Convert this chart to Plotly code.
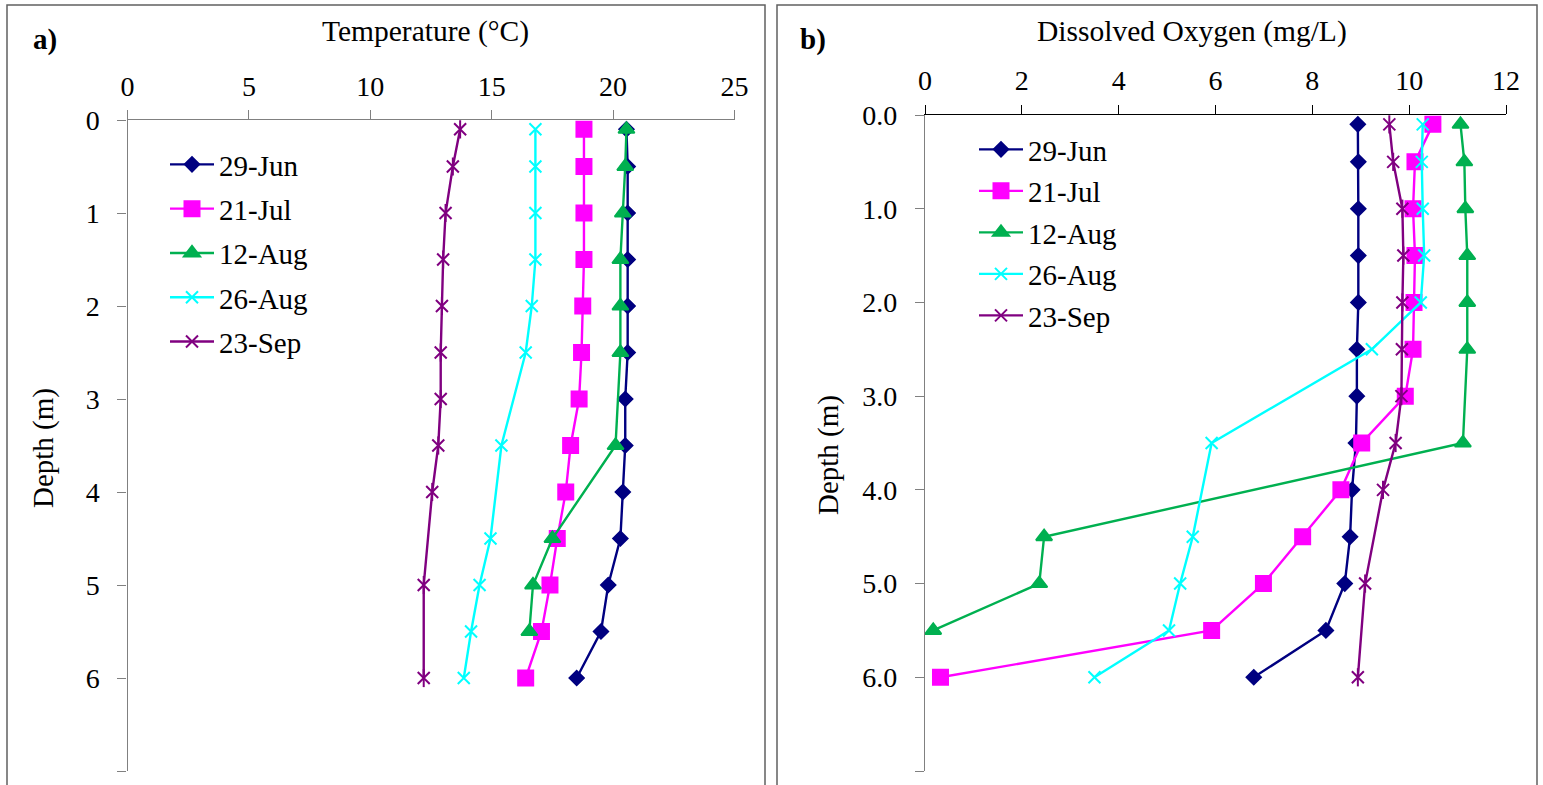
import plotly.graph_objects as go

# ---------------- data ----------------
depth = [0.1, 0.5, 1.0, 1.5, 2.0, 2.5, 3.0, 3.5, 4.0, 4.5, 5.0, 5.5, 6.0]
series_names = ["29-Jun", "21-Jul", "12-Aug", "26-Aug", "23-Sep"]

# Temperature (°C)
temp_29jun = [20.55, 20.6, 20.6, 20.6, 20.6, 20.6, 20.5, 20.5, 20.4, 20.3, 19.8, 19.5, 18.5]
temp_21jul = [18.8, 18.8, 18.8, 18.8, 18.75, 18.7, 18.6, 18.25, 18.05, 17.7, 17.4, 17.05, 16.4]
temp_12aug = [20.55, 20.5, 20.4, 20.3, 20.3, 20.3, None, 20.1, None, 17.5, 16.7, 16.55, None]
temp_26aug = [16.8, 16.8, 16.8, 16.8, 16.65, 16.4, None, 15.4, None, 14.95, 14.5, 14.15, 13.85]
temp_23sep = [13.7, 13.4, 13.1, 13.0, 12.95, 12.9, 12.9, 12.8, 12.55, None, 12.2, None, 12.2]

# Dissolved oxygen (mg/L)
do_29jun = [8.94, 8.95, 8.95, 8.95, 8.95, 8.92, 8.92, 8.9, 8.82, 8.78, 8.67, 8.28, 6.79]
do_21jul = [10.49, 10.12, 10.08, 10.12, 10.1, 10.08, 9.92, 9.02, 8.59, 7.8, 6.99, 5.92, 0.32]
do_12aug = [11.06, 11.14, 11.16, 11.2, 11.2, 11.2, None, 11.11, None, 2.46, 2.36, 0.17, None]
do_26aug = [10.28, 10.26, 10.28, 10.31, 10.24, 9.23, None, 5.92, None, 5.53, 5.27, 5.04, 3.5]
do_23sep = [9.59, 9.67, 9.86, 9.88, 9.86, 9.85, 9.84, 9.72, 9.46, None, 9.09, None, 8.94]

temp_x_ticks = [0, 5, 10, 15, 20, 25]
do_x_ticks = [0, 2, 4, 6, 8, 10, 12]
depth_ticks = [0, 1, 2, 3, 4, 5, 6, 7]

# ---------------- styles ----------------
colors = ["#000080", "#FF00FF", "#00B050", "#00FFFF", "#800080"]
symbols = ["diamond", "square", "triangle-up", "x-thin-open", "x-thin-open"]
sizes = [11, 15, 14, 12, 12]
FONT = "Liberation Serif, Times New Roman, serif"
W, H = 1543, 785

temps = [temp_29jun, temp_21jul, temp_12aug, temp_26aug, temp_23sep]
dos = [do_29jun, do_21jul, do_12aug, do_26aug, do_23sep]

fig = go.Figure()


def add_series(values, xa, ya, legend, prefix):
    for i, (name, vals) in enumerate(zip(series_names, values)):
        fig.add_trace(go.Scatter(
            x=vals, y=depth, name=name, mode="lines+markers",
            connectgaps=True, xaxis=xa, yaxis=ya, legend=legend,
            legendgroup=f"{prefix}{i}",
            line=dict(color=colors[i], width=2.4),
            marker=dict(symbol=symbols[i], size=sizes[i], color=colors[i],
                        line=dict(color=colors[i], width=2)),
        ))
        if i == 4:  # asterisk: add vertical stroke to the x marker
            fig.add_trace(go.Scatter(
                x=vals, y=depth, mode="markers", showlegend=False,
                xaxis=xa, yaxis=ya, legendgroup=f"{prefix}{i}",
                marker=dict(symbol="line-ns-open", size=13, color=colors[i],
                            line=dict(color=colors[i], width=2)),
                hoverinfo="skip",
            ))


add_series(temps, "x", "y", "legend", "a")
add_series(dos, "x2", "y2", "legend2", "b")


def px(xp):
    return xp / W


def py(yp):
    return 1 - yp / H


axis_font = dict(family=FONT, size=28, color="black")
common_axis = dict(ticks="outside", ticklen=9, tickwidth=1.3, showgrid=False,
                   zeroline=False, tickfont=axis_font, showline=True,
                   linewidth=1.3, automargin=False)

fig.update_layout(
    width=W, height=H, autosize=False,
    margin=dict(l=0, r=0, t=0, b=0, pad=0, autoexpand=False),
    paper_bgcolor="white", plot_bgcolor="white",
    font=dict(family=FONT, size=28, color="black"),
    showlegend=True,
    xaxis=dict(domain=[px(127.5), px(734.5)], range=[0, 25], side="top",
               tickvals=temp_x_ticks, tickcolor="#808080", linecolor="#808080",
               ticklabelstandoff=3, anchor="y", **common_axis),
    yaxis=dict(domain=[py(771), py(120)], range=[7, 0], tickvals=depth_ticks,
               tickcolor="#808080", linecolor="#808080",
               ticklabelstandoff=12, anchor="x", **common_axis),
    xaxis2=dict(domain=[px(925), px(1506)], range=[0, 12], side="top",
                tickvals=do_x_ticks, tickcolor="black", linecolor="black",
                ticklabelstandoff=4, anchor="y2", **common_axis),
    yaxis2=dict(domain=[py(771), py(115)], range=[7, 0], tickvals=depth_ticks,
                tickformat=".1f", tickcolor="#808080", linecolor="#808080",
                ticklabelstandoff=12, anchor="x2", **common_axis),
    legend=dict(x=px(165), y=py(139), xanchor="left", yanchor="top",
                bgcolor="rgba(0,0,0,0)", font=dict(family=FONT, size=29),
                tracegroupgap=3.6, itemwidth=44),
    legend2=dict(x=px(974), y=py(124), xanchor="left", yanchor="top",
                 bgcolor="rgba(0,0,0,0)", font=dict(family=FONT, size=29),
                 tracegroupgap=0.8, itemwidth=44),
)

# panel frames
for x0, x1 in [(7, 765), (777, 1537)]:
    fig.add_shape(type="rect", xref="paper", yref="paper",
                  x0=px(x0), x1=px(x1), y0=-0.02, y1=py(5),
                  line=dict(color="#606060", width=1.5), layer="below")

annotations = [
    dict(text="Temperature (°C)", x=px(425), y=py(32), size=29.5),
    dict(text="Dissolved Oxygen (mg/L)", x=px(1192), y=py(32), size=29.5),
    dict(text="<b>a)</b>", x=px(45), y=py(40), size=29),
    dict(text="<b>b)</b>", x=px(813), y=py(40), size=29),
    dict(text="Depth (m)", x=px(43), y=py(448), textangle=-90, size=29),
    dict(text="Depth (m)", x=px(828), y=py(455), textangle=-90, size=29),
]
for a in annotations:
    size = a.pop("size")
    fig.add_annotation(xref="paper", yref="paper", showarrow=False,
                       xanchor="center", yanchor="middle",
                       font=dict(family=FONT, size=size, color="black"), **a)

post = """
document.documentElement.style.margin='0';
document.documentElement.style.overflow='hidden';
document.body.style.margin='0';
document.body.style.overflow='hidden';
var gd = document.getElementById('{plot_id}');
gd.style.position='fixed';
gd.style.left='0px';
gd.style.top='0px';
"""

fig.write_html("out.html", config={"displayModeBar": False}, post_script=post)
